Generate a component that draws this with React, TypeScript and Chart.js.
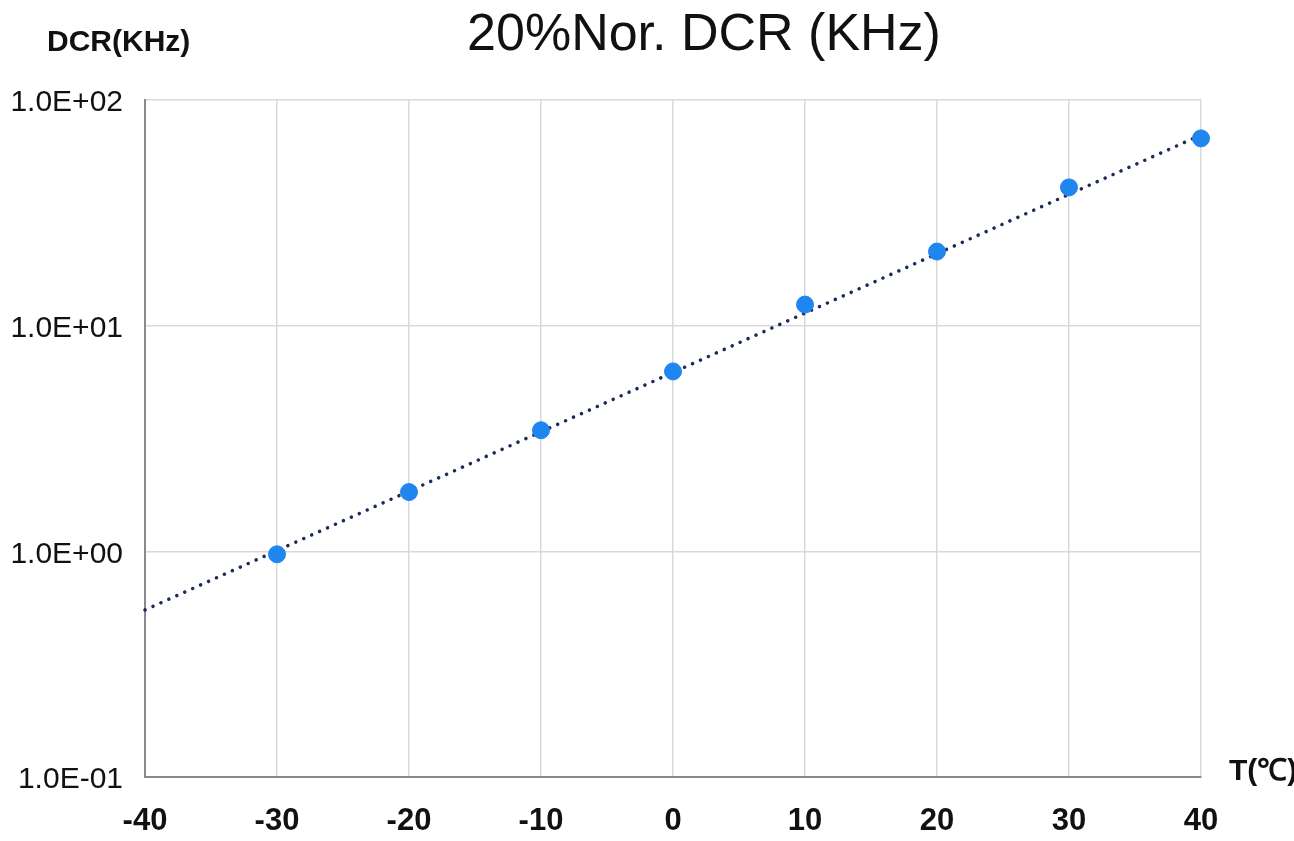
import React, { useEffect, useRef } from "react";
import { Chart, registerables } from "chart.js";

Chart.register(...registerables);

const temps = [-30, -20, -10, 0, 10, 20, 30, 40];
const dcr = [0.97, 1.83, 3.44, 6.27, 12.4, 21.3, 41.0, 67.6];
const trendX = [-40, 40];
const trendY = [0.55, 70];
const yTickValues = [0.1, 1, 10, 100];
const yTickLabels = ["1.0E-01", "1.0E+00", "1.0E+01", "1.0E+02"];
const chartTitle = "20%Nor. DCR (KHz)";
const yAxisTitle = "DCR(KHz)";
const xAxisTitle = "T(℃)";

const FONT = "'Liberation Sans', Arial, sans-serif";

export default function App() {
  const ref = useRef<HTMLCanvasElement | null>(null);
  useEffect(() => {
    const canvas = ref.current;
    if (!canvas) return;
    const textPlugin = {
      id: "texts",
      afterDraw(chart: any) {
        const ctx = chart.ctx;
        ctx.save();
        ctx.fillStyle = "#111";
        ctx.textBaseline = "middle";
        ctx.textAlign = "center";
        ctx.font = `52px ${FONT}`;
        ctx.fillText(chartTitle, 704, 36);
        ctx.font = `bold 30px ${FONT}`;
        ctx.textAlign = "left";
        ctx.fillText(yAxisTitle, 47, 43);
        ctx.fillText(xAxisTitle, 1229, 772);
        ctx.restore();
      },
    };
    const chart = new Chart(canvas, {
      type: "scatter",
      data: {
        datasets: [
          {
            label: "DCR",
            data: temps.map((t, i) => ({ x: t, y: dcr[i] })),
            backgroundColor: "#1f86f0",
            borderColor: "#1f86f0",
            pointRadius: 8.5,
            pointHoverRadius: 8.5,
            showLine: false,
            clip: false,
          },
          {
            label: "Trend",
            data: trendX.map((t, i) => ({ x: t, y: trendY[i] })),
            borderColor: "#1b2a5c",
            borderWidth: 3.5,
            borderDash: [0.1, 8.6],
            borderCapStyle: "round",
            pointRadius: 0,
            showLine: true,
            clip: false,
          },
        ],
      },
      options: {
        animation: false,
        responsive: false,
        devicePixelRatio: 1,
        layout: { padding: { top: 100, right: 93, left: 0, bottom: 0 } },
        plugins: { legend: { display: false }, tooltip: { enabled: false }, title: { display: false } },
        scales: {
          x: {
            type: "linear",
            min: -40,
            max: 40,
            afterFit: (s: any) => { s.height = 64; },
            ticks: { stepSize: 10, padding: 26, color: "#111", font: { family: FONT, size: 31, weight: "bold" } },
            grid: { color: "#d9d9dc", lineWidth: 1.5, drawTicks: false },
            border: { color: "#8a8a8e", width: 2 },
          },
          y: {
            type: "logarithmic",
            min: 0.1,
            max: 100,
            afterFit: (s: any) => { s.width = 145; },
            afterBuildTicks: (s: any) => { s.ticks = yTickValues.map((v) => ({ value: v })); },
            ticks: {
              padding: 22,
              labelOffset: 3,
              color: "#111",
              font: { family: FONT, size: 30 },
              callback: (_v: any, i: number) => yTickLabels[i],
            },
            grid: { color: "#d9d9dc", lineWidth: 1.5, drawTicks: false },
            border: { color: "#8a8a8e", width: 2 },
          },
        },
      },
      plugins: [textPlugin],
    } as any);
    return () => chart.destroy();
  }, []);
  return (
    <div style={{ position: "absolute", left: 0, top: 0, width: 1294, height: 841, background: "#fff" }}>
      <canvas ref={ref} width={1294} height={841} />
    </div>
  );
}
